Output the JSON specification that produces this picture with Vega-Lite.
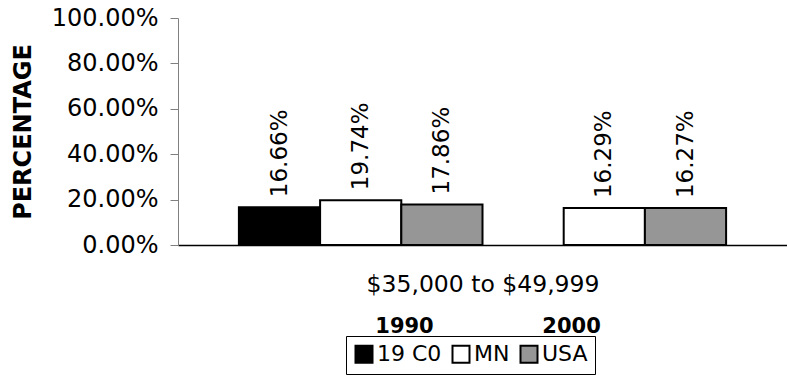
{
  "$schema": "https://vega.github.io/schema/vega-lite/v6.json",
  "width": 609,
  "height": 227,
  "autosize": {"type": "none"},
  "padding": {"left": 178, "top": 18, "right": 0, "bottom": 133},
  "background": "white",
  "config": {"view": {"stroke": null}, "font": "DejaVu Sans"},
  "data": {
    "values": [
      {"year": 1990, "area": "19 C0", "value": 0.1666},
      {"year": 1990, "area": "MN", "value": 0.1974},
      {"year": 1990, "area": "USA", "value": 0.1786},
      {"year": 2000, "area": "MN", "value": 0.1629},
      {"year": 2000, "area": "USA", "value": 0.1627}
    ]
  },
  "layer": [
    {
      "mark": {"type": "bar", "stroke": "black", "strokeWidth": 2},
      "encoding": {
        "x": {
          "field": "year", "type": "nominal",
          "scale": {"domain": [1990, 2000], "paddingInner": 0, "paddingOuter": 0.25},
          "axis": {
            "labels": false, "ticks": false, "domainColor": "black", "domainWidth": 1.5,
            "title": "$35,000 to $49,999", "titleFont": "DejaVu Sans", "titleFontSize": 23.5,
            "titleFontWeight": "normal", "titleColor": "black", "titlePadding": 27
          }
        },
        "xOffset": {
          "field": "area", "type": "nominal",
          "scale": {"domain": ["19 C0", "MN", "USA"], "paddingInner": 0, "paddingOuter": 0}
        },
        "y": {
          "field": "value", "type": "quantitative",
          "scale": {"domain": [0, 1], "nice": false},
          "axis": {
            "values": [0, 0.2, 0.4, 0.6, 0.8, 1], "format": ".2%", "grid": false,
            "domainColor": "#808080", "tickColor": "#808080", "tickSize": 8,
            "labelFontSize": 24, "labelFont": "DejaVu Sans", "labelColor": "black",
            "labelPadding": 12, "labelOverlap": false,
            "title": "PERCENTAGE", "titleFont": "DejaVu Sans", "titleFontSize": 24,
            "titleFontWeight": "bold", "titleColor": "black", "titlePadding": 16
          }
        },
        "color": {
          "field": "area", "type": "nominal",
          "scale": {"domain": ["19 C0", "MN", "USA"], "range": ["#000000", "#ffffff", "#969696"]},
          "legend": {
            "title": null, "orient": "none", "legendX": 168, "legendY": 318,
            "direction": "horizontal", "strokeColor": "black", "padding": 7,
            "symbolType": "square", "symbolSize": 289, "symbolStrokeColor": "black",
            "symbolStrokeWidth": 2, "symbolOpacity": 1,
            "labelFontSize": 22, "labelFont": "DejaVu Sans", "labelColor": "black",
            "columnPadding": 6, "labelOffset": 2
          }
        }
      }
    },
    {
      "mark": {"type": "text", "angle": 270, "align": "left", "baseline": "middle", "dx": 10, "fontSize": 23, "font": "DejaVu Sans", "color": "black"},
      "encoding": {
        "x": {
          "field": "year", "type": "nominal",
          "scale": {"domain": [1990, 2000], "paddingInner": 0, "paddingOuter": 0.25},
          "axis": null
        },
        "xOffset": {
          "field": "area", "type": "nominal",
          "scale": {"domain": ["19 C0", "MN", "USA"], "paddingInner": 0, "paddingOuter": 0}
        },
        "y": {"field": "value", "type": "quantitative"},
        "text": {"field": "value", "type": "quantitative", "format": ".2%"}
      }
    },
    {
      "mark": {"type": "text", "opacity": 0},
      "encoding": {
        "x": {
          "field": "year", "type": "quantitative",
          "scale": {"domain": [1976.47, 2012.93], "nice": false, "zero": false},
          "axis": {
            "orient": "bottom", "offset": 70, "domain": false, "ticks": false, "grid": false,
            "values": [1990, 2000], "format": "d",
            "labelPadding": 0, "labelFontSize": 21, "labelFontWeight": "bold",
            "labelColor": "black", "labelFont": "DejaVu Sans", "labelFlush": false,
            "labelAngle": 0, "title": null
          }
        },
        "text": {"value": ""}
      }
    }
  ],
  "resolve": {"scale": {"x": "independent"}, "axis": {"x": "independent"}}
}
